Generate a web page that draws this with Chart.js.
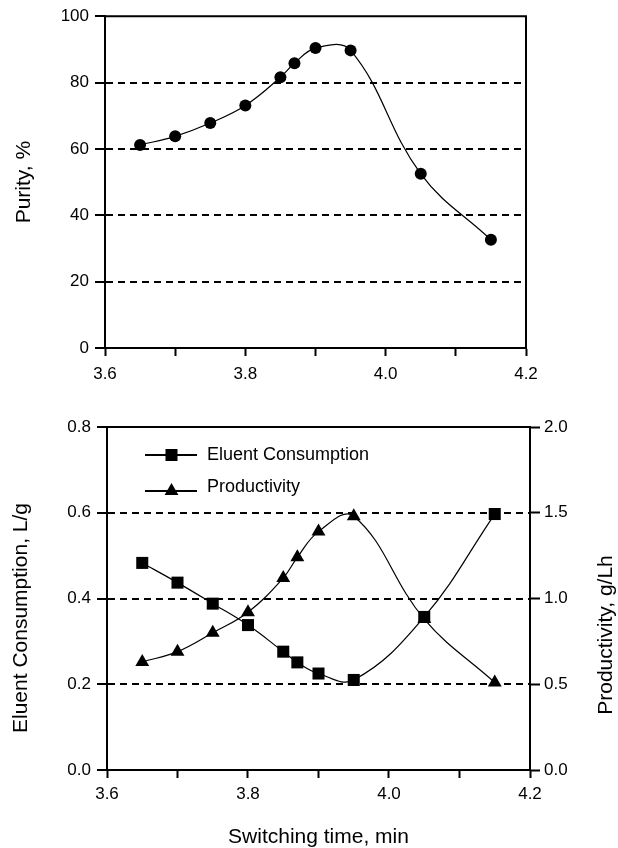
<!DOCTYPE html>
<html>
<head>
<meta charset="utf-8">
<script src="https://cdn.jsdelivr.net/npm/chart.js@4.4.0/dist/chart.umd.min.js"></script>
<style>
  html, body { margin: 0; padding: 0; background: #fff; }
  #wrap { position: relative; width: 618px; height: 848px; }
  .box { position: absolute; left: 0; width: 618px; }
  #top { top: 0; height: 385px; }
  #bottom { top: 385px; height: 463px; }
</style>
</head>
<body>
<div id="wrap">
  <div class="box" id="top"><canvas id="purityChart" width="618" height="385"></canvas></div>
  <div class="box" id="bottom"><canvas id="ecChart" width="618" height="463"></canvas></div>
</div>
<script>
// ======= data =======
const switchTime   = [3.65, 3.70, 3.75, 3.80, 3.85, 3.87, 3.90, 3.95, 4.05, 4.15];
const purity       = [61.2, 63.8, 67.8, 73.1, 81.6, 85.8, 90.4, 89.7, 52.5, 32.6];
const eluent       = [0.483, 0.437, 0.388, 0.338, 0.276, 0.251, 0.225, 0.210, 0.357, 0.597];
const productivity = [0.63, 0.69, 0.80, 0.92, 1.12, 1.24, 1.39, 1.48, 0.88, 0.51];

const xTicks = [3.6, 4.2, 0.1];       // min, max, step (labels every 0.2)
const purityTicks = [0, 100, 20];
const eluentTicks = [0, 0.8, 0.2];
const prodTicks = [0, 2.0, 0.5];

const FONT = '"Liberation Sans", Arial, Helvetica, sans-serif';
Chart.defaults.font.family = FONT;
Chart.defaults.font.size = 17;
Chart.defaults.color = '#000';
Chart.defaults.animation = false;

const pts = (ys) => switchTime.map((x, i) => ({ x: x, y: ys[i] }));

// dashed grid only inside the box, solid ticks outside
const innerGrid = (lo, hi) => (ctx) => {
  const v = ctx.tick ? ctx.tick.value : null;
  return (v === null || Math.abs(v - lo) < 1e-9 || Math.abs(v - hi) < 1e-9) ? 'rgba(0,0,0,0)' : '#000';
};

function xScale(tickLen, pad, title) {
  return {
    type: 'linear',
    min: xTicks[0], max: xTicks[1],
    afterFit: (s) => { s.height = title ? 78 : 37; },
    ticks: {
      stepSize: xTicks[2], autoSkip: false, maxRotation: 0, padding: pad,
      callback: (v) => (Math.round(v * 10) % 2 === 0 ? v.toFixed(1) : '')
    },
    grid: { drawOnChartArea: false, tickLength: tickLen, tickColor: '#000', tickWidth: 2, tickBorderDash: [] },
    border: { color: '#000', width: 2 },
    title: title ? { display: true, text: title, font: { size: 21 }, padding: { top: 0, bottom: -2 } } : { display: false }
  };
}

// vertical text reading bottom to top
function sideText(ctx, text, x, y) {
  ctx.save();
  ctx.translate(x, y);
  ctx.rotate(-Math.PI / 2);
  ctx.font = '21px ' + FONT;
  ctx.fillStyle = '#000';
  ctx.textAlign = 'center';
  ctx.textBaseline = 'middle';
  ctx.fillText(text, 0, 0);
  ctx.restore();
}

// ======= box frame (top + right edge) =======
const framePlugin = {
  id: 'frame',
  afterDraw(chart) {
    const { ctx, chartArea: a } = chart;
    ctx.save();
    ctx.strokeStyle = '#000';
    ctx.lineWidth = 2;
    ctx.beginPath();
    ctx.moveTo(a.left, a.top);
    ctx.lineTo(a.right, a.top);
    ctx.lineTo(a.right, a.bottom);
    ctx.stroke();
    ctx.restore();
  }
};

// ======= Purity chart =======
new Chart(document.getElementById('purityChart'), {
  type: 'line',
  data: {
    datasets: [{
      label: 'Purity',
      data: pts(purity),
      borderColor: '#000',
      backgroundColor: '#000',
      borderWidth: 1.2,
      tension: 0.4,
      pointStyle: 'circle',
      pointRadius: 6,
      pointBorderWidth: 0
    }]
  },
  options: {
    responsive: false,
    layout: { padding: { left: 0, right: 92, top: 15, bottom: 0 } },
    plugins: { legend: { display: false }, tooltip: { enabled: false } },
    scales: {
      x: xScale(8, 8, null),
      y: {
        min: purityTicks[0], max: purityTicks[1],
        afterFit: (s) => { s.width = 105; },
        ticks: { stepSize: purityTicks[2], padding: 6 },
        grid: { color: innerGrid(0, 100), lineWidth: 2, tickLength: 10, tickColor: '#000', tickWidth: 2, tickBorderDash: [] },
        border: { color: '#000', width: 2, dash: [7, 5] },
        title: { display: true, text: 'Purity, %', font: { size: 21 }, padding: { top: 12, bottom: 0 } }
      }
    }
  },
  plugins: [framePlugin]
});

// ======= Eluent consumption / productivity chart =======
const legendPlugin = {
  id: 'lineLegend',
  afterDraw(chart) {
    const { ctx } = chart;
    const rows = [
      { ds: chart.data.datasets[0], y: 70, ty: 70 },
      { ds: chart.data.datasets[1], y: 106, ty: 102.5 }
    ];
    ctx.save();
    rows.forEach((r) => {
      ctx.strokeStyle = '#000';
      ctx.lineWidth = 2;
      ctx.beginPath();
      ctx.moveTo(145, r.y);
      ctx.lineTo(197, r.y);
      ctx.stroke();
      ctx.fillStyle = '#000';
      Chart.helpers.drawPoint(ctx, { pointStyle: r.ds.pointStyle, radius: r.ds.pointRadius, rotation: 0, borderWidth: 0 }, 171.5, r.y);
      ctx.font = '18px ' + FONT;
      ctx.textBaseline = 'middle';
      ctx.textAlign = 'left';
      ctx.fillText(r.ds.label, 207, r.ty);
    });
    ctx.restore();
    // axis titles, reading bottom to top
    sideText(ctx, 'Eluent Consumption, L/g', 21, 233);
    sideText(ctx, 'Productivity, g/Lh', 606, 250);
  }
};

new Chart(document.getElementById('ecChart'), {
  type: 'line',
  data: {
    datasets: [{
      label: 'Eluent Consumption',
      data: pts(eluent),
      yAxisID: 'y',
      borderColor: '#000',
      backgroundColor: '#000',
      borderWidth: 1.2,
      tension: 0.4,
      pointStyle: 'rect',
      pointRadius: 8.5,
      pointBorderWidth: 0
    }, {
      label: 'Productivity',
      data: pts(productivity),
      yAxisID: 'y1',
      borderColor: '#000',
      backgroundColor: '#000',
      borderWidth: 1.2,
      tension: 0.4,
      pointStyle: 'triangle',
      pointRadius: 8,
      pointBorderWidth: 0
    }]
  },
  options: {
    responsive: false,
    layout: { padding: { left: 0, right: 0, top: 42, bottom: 0 } },
    plugins: { legend: { display: false }, tooltip: { enabled: false } },
    scales: {
      x: xScale(8, 6, 'Switching time, min'),
      y: {
        position: 'left',
        min: eluentTicks[0], max: eluentTicks[1],
        afterFit: (s) => { s.width = 107; },
        ticks: { stepSize: eluentTicks[2], padding: 6, callback: (v) => v.toFixed(1) },
        grid: { color: innerGrid(0, 0.8), lineWidth: 2, tickLength: 10, tickColor: '#000', tickWidth: 2, tickBorderDash: [] },
        border: { color: '#000', width: 2, dash: [7, 5] },
        title: { display: false }
      },
      y1: {
        position: 'right',
        min: prodTicks[0], max: prodTicks[1],
        afterFit: (s) => { s.width = 88; },
        ticks: { stepSize: prodTicks[2], padding: 4, callback: (v) => v.toFixed(1) },
        grid: { drawOnChartArea: false, tickLength: 10, tickColor: '#000', tickWidth: 2, tickBorderDash: [] },
        border: { color: '#000', width: 2 },
        title: { display: false }
      }
    }
  },
  plugins: [framePlugin, legendPlugin]
});
</script>
</body>
</html>
